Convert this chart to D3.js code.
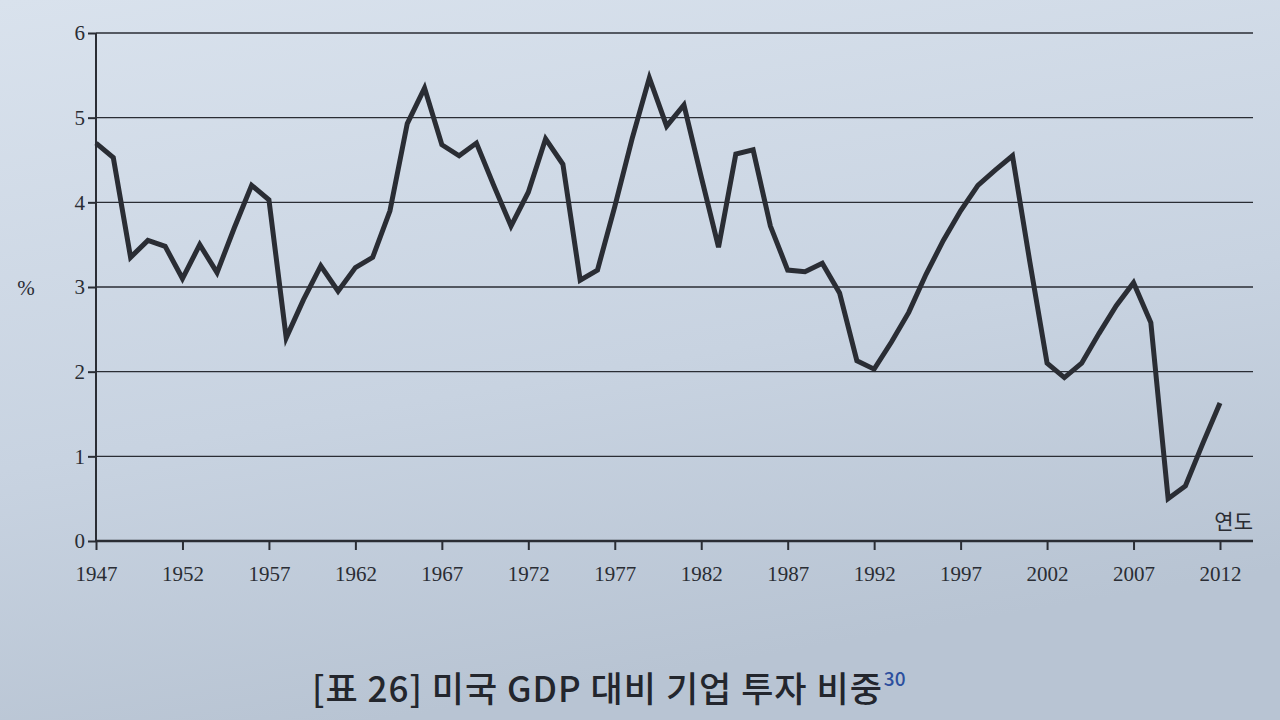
<!DOCTYPE html>
<html><head><meta charset="utf-8">
<script src="https://cdn.jsdelivr.net/npm/d3@7"></script>
<style>
html,body{margin:0;padding:0;width:1280px;height:720px;overflow:hidden;}
svg{display:block;}
</style></head>
<body>
<svg id="chart" width="1280" height="720"></svg>
<script>
const years = d3.range(1947, 2013);
const values = [
  4.70, 4.53, 3.35, 3.55, 3.48, 3.10, 3.50, 3.17, 3.70, 4.20,
  4.03, 2.40, 2.85, 3.25, 2.95, 3.23, 3.35, 3.90, 4.93, 5.35,
  4.68, 4.55, 4.70, 4.20, 3.72, 4.12, 4.75, 4.45, 3.08, 3.20,
  3.95, 4.75, 5.47, 4.90, 5.15, 4.30, 3.47, 4.57, 4.62, 3.72,
  3.20, 3.18, 3.28, 2.93, 2.13, 2.03, 2.35, 2.70, 3.15, 3.55,
  3.90, 4.20, 4.38, 4.55, 3.30, 2.10, 1.93, 2.10, 2.45, 2.78,
  3.05, 2.58, 0.50, 0.65, 1.15, 1.63
];
const yTicks = [0, 1, 2, 3, 4, 5, 6];
const xTickYears = [1947, 1952, 1957, 1962, 1967, 1972, 1977, 1982, 1987, 1992, 1997, 2002, 2007, 2012];
const yLabel = "%";
const xLabel = "연도";
const titleText = "[표 26] 미국 GDP 대비 기업 투자 비중";
const noteMark = "30";

const svg = d3.select("#chart");
const defs = svg.append("defs");
const grad = defs.append("linearGradient").attr("id","bg").attr("x1","0").attr("y1","0").attr("x2","0.3").attr("y2","1");
grad.append("stop").attr("offset","0").attr("stop-color","#d9e2ed");
grad.append("stop").attr("offset","0.6").attr("stop-color","#c8d3e1");
grad.append("stop").attr("offset","1").attr("stop-color","#b8c4d3");
svg.append("rect").attr("width",1280).attr("height",720).attr("fill","url(#bg)");

const ink = "#2a2d34";
const serif = "'Liberation Serif', 'DejaVu Serif', serif";
const x = d3.scaleLinear().domain([1947, 2012]).range([96, 1220]);
const y = d3.scaleLinear().domain([0, 6]).range([541, 33]);
const axisRight = 1253;

// gridlines
svg.append("g").selectAll("line").data(yTicks.filter(d => d > 0)).join("line")
  .attr("x1", x(1947)).attr("x2", axisRight)
  .attr("y1", d => y(d)).attr("y2", d => y(d))
  .attr("stroke", ink).attr("stroke-width", 1.3);

// y axis
const yAxis = d3.axisLeft(y).tickValues(yTicks).tickSize(8).tickPadding(3).tickFormat(d3.format("d"));
const gy = svg.append("g").attr("transform", `translate(${x(1947)},0)`).call(yAxis);
gy.select(".domain").attr("stroke", ink).attr("stroke-width", 2).attr("d", `M0,${y(6)}V${y(0)}`);
gy.selectAll(".tick line").attr("stroke", ink).attr("stroke-width", 2);
gy.selectAll(".tick text").attr("fill", ink).attr("font-family", serif).attr("font-size", 21);

// x axis
const xAxis = d3.axisBottom(x).tickValues(xTickYears).tickSize(9).tickPadding(16).tickFormat(d3.format("d"));
const gx = svg.append("g").attr("transform", `translate(0,${y(0)})`).call(xAxis);
gx.select(".domain").attr("stroke", ink).attr("stroke-width", 2.5).attr("d", `M${x(1947)},0H${axisRight}`);
gx.selectAll(".tick line").attr("stroke", ink).attr("stroke-width", 2);
gx.selectAll(".tick text").attr("fill", ink).attr("font-family", serif).attr("font-size", 21);

// axis labels
svg.append("text").attr("x", 26).attr("y", y(3) + 8).attr("text-anchor", "middle")
  .attr("font-family", serif).attr("font-size", 21).attr("fill", ink).text(yLabel);
svg.append("text").attr("x", axisRight).attr("y", 529).attr("text-anchor", "end")
  .attr("font-family", "'Noto Sans CJK KR', sans-serif").attr("font-size", 21).attr("fill", ink).text(xLabel);

// line
const line = d3.line().x((d, i) => x(years[i])).y(d => y(d));
svg.append("path").datum(values).attr("d", line)
  .attr("fill", "none").attr("stroke", ink).attr("stroke-width", 5)
  .attr("stroke-linejoin", "miter").attr("stroke-miterlimit", 4);

// title
const title = svg.append("text").attr("x", 312).attr("y", 702)
  .attr("font-family", "'Noto Sans CJK KR', sans-serif").attr("font-size", 35).attr("font-weight", 500)
  .attr("letter-spacing", 1).attr("fill", "#23262d");
title.append("tspan").text(titleText);
title.append("tspan").attr("dy", -16).attr("dx", 1).attr("font-size", 19).attr("letter-spacing", 0).attr("fill", "#2c4f9e").text(noteMark);
</script>
</body></html>
